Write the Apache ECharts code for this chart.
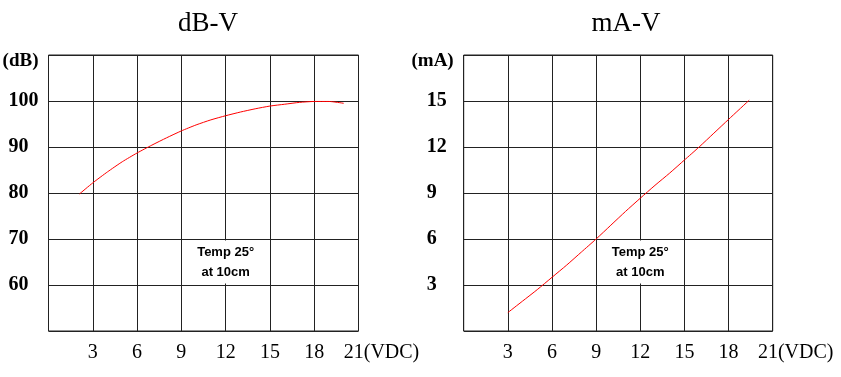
<!DOCTYPE html>
<html>
<head>
<meta charset="utf-8">
<script src="https://cdn.jsdelivr.net/npm/echarts@6/dist/echarts.min.js"></script>
<style>
  html, body { margin: 0; padding: 0; background: #fff; }
  #chart { width: 841px; height: 377px; }
</style>
</head>
<body>
<div id="chart"></div>
<script>
// curve data
var dbVolts = [2.1, 3, 4, 5, 6, 7, 8, 9, 10, 11, 12, 13, 14, 15, 16, 17, 18, 19, 20];
var dbValues = [79.8, 82.2, 84.6, 86.8, 88.7, 90.4, 92.0, 93.5, 94.8, 95.9, 96.8, 97.6, 98.3, 98.9, 99.3, 99.7, 99.9, 99.9, 99.5];
var maVolts = [3, 4, 5, 6, 7, 8, 9, 10, 11, 12, 13, 14, 15, 16, 17, 18, 19.4];
var maValues = [1.2, 1.95, 2.7, 3.5, 4.3, 5.15, 6.0, 6.9, 7.8, 8.66, 9.5, 10.3, 11.15, 12.0, 12.9, 13.8, 15.05];

var voltTicks = [3, 6, 9, 12, 15, 18, 21];
var dbTicks = [60, 70, 80, 90, 100];
var maTicks = [3, 6, 9, 12, 15];
var titles = ['dB-V', 'mA-V'];
var unitNames = ['(dB)', '(mA)'];
var noteText = 'Temp 25°\nat 10cm';

var gridColor = '#222';
var serif = 'Liberation Serif';

function zip(xs, ys) {
  var out = [];
  for (var i = 0; i < xs.length; i++) out.push([xs[i], ys[i]]);
  return out;
}

function xAxisFor(idx) {
  return {
    type: 'value', gridIndex: idx, min: 0, max: 21, interval: 3,
    axisLine: { show: false }, axisTick: { show: false },
    splitLine: { show: true, lineStyle: { color: gridColor, width: 1 } },
    axisLabel: {
      margin: 12, color: '#000', fontFamily: serif, fontSize: 20,
      formatter: function (v) {
        if (voltTicks.indexOf(v) < 0) return '';
        if (v == 21) return '{end|21(VDC)}';
        return '' + v;
      },
      rich: { end: { fontFamily: serif, fontSize: 20, color: '#000', padding: [0, 0, 0, 46] } }
    }
  };
}

function yAxisFor(idx, min, max, interval, ticks, margin) {
  return {
    type: 'value', gridIndex: idx, min: min, max: max, interval: interval,
    name: unitNames[idx], nameLocation: 'end', nameGap: -6,
    nameTextStyle: {
      align: 'right', verticalAlign: 'middle', padding: [0, 10, 0, 0],
      color: '#000', fontFamily: serif, fontSize: 19, fontWeight: 'bold'
    },
    axisLine: { show: false }, axisTick: { show: false },
    splitLine: { show: true, lineStyle: { color: gridColor, width: 1 } },
    axisLabel: {
      align: 'left', margin: margin, color: '#000', fontFamily: serif, fontSize: 20, fontWeight: 'bold',
      formatter: function (v) {
        return ticks.indexOf(v) >= 0 ? '' + v : '';
      }
    }
  };
}

// white box over the grid cell holding the note
function noteArea(x1, y1, x2, y2) {
  return {
    silent: true,
    itemStyle: { color: '#fff', opacity: 1 },
    label: {
      show: true, position: 'inside', formatter: noteText,
      color: '#000', fontFamily: 'Liberation Sans', fontWeight: 'bold', fontSize: 13, lineHeight: 20
    },
    data: [[{ xAxis: x1, yAxis: y1 }, { xAxis: x2, yAxis: y2 }]]
  };
}

var chart = echarts.init(document.getElementById('chart'), null, { renderer: 'canvas' });

chart.setOption({
  backgroundColor: '#fff',
  animation: false,
  title: [
    { text: titles[0], left: 203, top: 5, textAlign: 'center',
      textStyle: { fontFamily: serif, fontSize: 27, fontWeight: 'normal', color: '#000' } },
    { text: titles[1], left: 621, top: 5, textAlign: 'center',
      textStyle: { fontFamily: serif, fontSize: 27, fontWeight: 'normal', color: '#000' } }
  ],
  grid: [
    { left: 48.5, top: 55, width: 310, height: 276, show: true, borderColor: gridColor, borderWidth: 1 },
    { left: 463.7, top: 55, width: 309, height: 276, show: true, borderColor: gridColor, borderWidth: 1 }
  ],
  xAxis: [xAxisFor(0), xAxisFor(1)],
  yAxis: [
    yAxisFor(0, 50, 110, 10, dbTicks, 40),
    yAxisFor(1, 0, 18, 3, maTicks, 37)
  ],
  series: [
    {
      type: 'line', xAxisIndex: 0, yAxisIndex: 0,
      data: zip(dbVolts, dbValues), smooth: 0.2, symbol: 'none',
      lineStyle: { color: '#ff0000', width: 1 },
      markArea: noteArea(9.08, 60.3, 14.92, 69.7)
    },
    {
      type: 'line', xAxisIndex: 1, yAxisIndex: 1,
      data: zip(maVolts, maValues), smooth: 0.2, symbol: 'none',
      lineStyle: { color: '#ff0000', width: 1 },
      markArea: noteArea(9.08, 3.1, 14.92, 5.9)
    }
  ]
});
</script>
</body>
</html>
